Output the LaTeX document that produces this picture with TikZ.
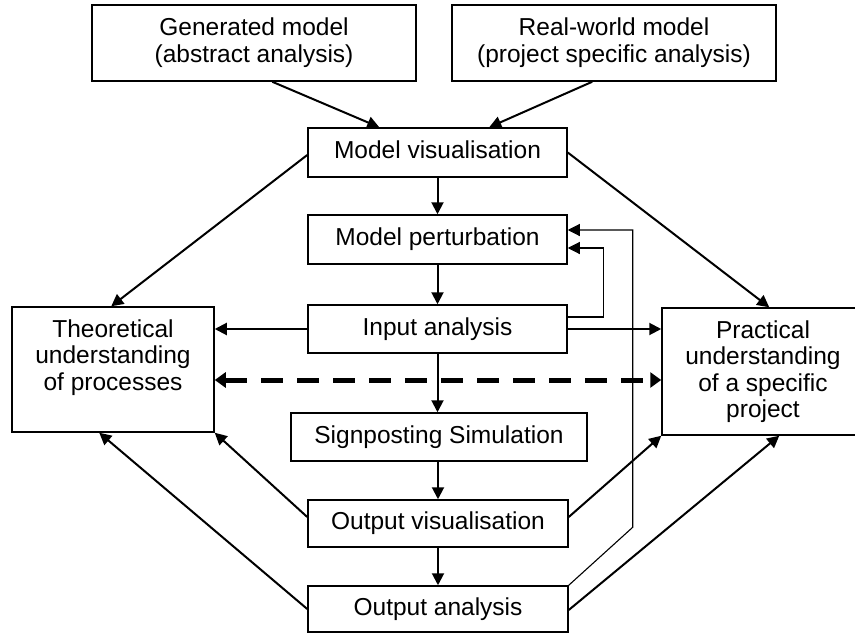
\documentclass[tikz,border=0pt]{standalone}
\usepackage{fontspec}
\setmainfont{Liberation Sans}
\usetikzlibrary{arrows.meta}
\newcommand\fsz{\fontsize{24.5}{27}\selectfont}
\begin{document}
\begin{tikzpicture}[x=1pt,y=-1pt,
  box/.style={draw,line width=1.5pt,inner sep=0pt,font=\fsz,align=center},
  onebox/.style={box,text height=17.5pt,text depth=5.5pt},
  lbl/.style={inner sep=0pt,font=\fontsize{24.5}{26.5}\selectfont,align=center,anchor=north},
  arr/.style={line width=2pt,-{Triangle[length=12pt,width=12pt]}},
  thinarr/.style={line width=1.1pt,-{Triangle[length=12pt,width=12pt]}},
  darr/.style={line width=5pt,dash pattern=on 22pt off 14pt,
    {Triangle[length=11pt,width=15pt]}-{Triangle[length=11pt,width=15pt]}}]
\useasboundingbox (0,0) rectangle (855,634);
\clip (0,0) rectangle (855,634);
% boxes
\node[box,minimum width=324pt,minimum height=76pt] (gen) at (254,43) {Generated model\\(abstract analysis)};
\node[box,minimum width=324pt,minimum height=76pt] (real) at (614,43) {Real-world model\\(project specific analysis)};
\node[onebox,minimum width=259pt,minimum height=49pt] (vis) at (437.5,152.5) {Model visualisation};
\node[onebox,minimum width=259pt,minimum height=49pt] (pert) at (437.5,239.5) {Model perturbation};
\node[onebox,minimum width=259pt,minimum height=48pt] (inp) at (437.5,329) {Input analysis};
\node[onebox,minimum width=296pt,minimum height=48pt] (sign) at (439,437) {Signposting Simulation};
\node[onebox,minimum width=260pt,minimum height=47pt] (ovis) at (438,523.5) {Output visualisation};
\node[onebox,minimum width=260pt,minimum height=46pt] (oana) at (438,609) {Output analysis};
\node[box,minimum width=202pt,minimum height=125pt] (theo) at (113,369.5) {};
\node[box,minimum width=204pt,minimum height=127pt] (prac) at (764,371.5) {};
\node[lbl] (theot) at (113,319.5) {Theoretical\\understanding\\of processes};
\node[lbl] (pract) at (763,320.5) {Practical\\understanding\\of a specific\\project};
% connectors
\draw[arr] ([xshift=181pt]gen.south west) -- ([xshift=72pt]vis.north west);
\draw[arr] ([xshift=141pt]real.south west) -- ([xshift=182pt]vis.north west);
\draw[arr] (vis.south) -- (pert.north);
\draw[arr] (pert.south) -- (inp.north);
\draw[arr] (inp.south) -- (inp.south |- sign.north);
\draw[arr] (sign.south -| ovis.north) -- (ovis.north);
\draw[arr] (ovis.south) -- (oana.north);
\draw[arr] ([yshift=-2.5pt]vis.west) -- ([xshift=100pt]theo.north west);
\draw[arr] (vis.east) -- ([xshift=108pt]prac.north west);
\draw[arr] (inp.west) -- (inp.west -| theo.east);
\draw[arr] (inp.east) -- (inp.east -| prac.west);
\draw[darr] ([yshift=-10.5pt]theo.east) -- ([yshift=-10.5pt]theo.east -| prac.west);
\draw[arr] ([yshift=6.5pt]ovis.west) -- (theo.south east);
\draw[arr] (oana.west) -- ([xshift=88pt]theo.south west);
\draw[arr] ([yshift=6.5pt]ovis.east) -- (prac.south west);
\draw[arr] ([yshift=-1pt]oana.east) -- ([xshift=118pt]prac.south west);
\draw[thinarr] ([yshift=12pt]inp.east) -- ++(36,0) |- ([yshift=-8.5pt]pert.east);
\draw[thinarr] (oana.north east) -- ++(64,-58) |- ([yshift=9.5pt]pert.east);
\end{tikzpicture}
\end{document}
